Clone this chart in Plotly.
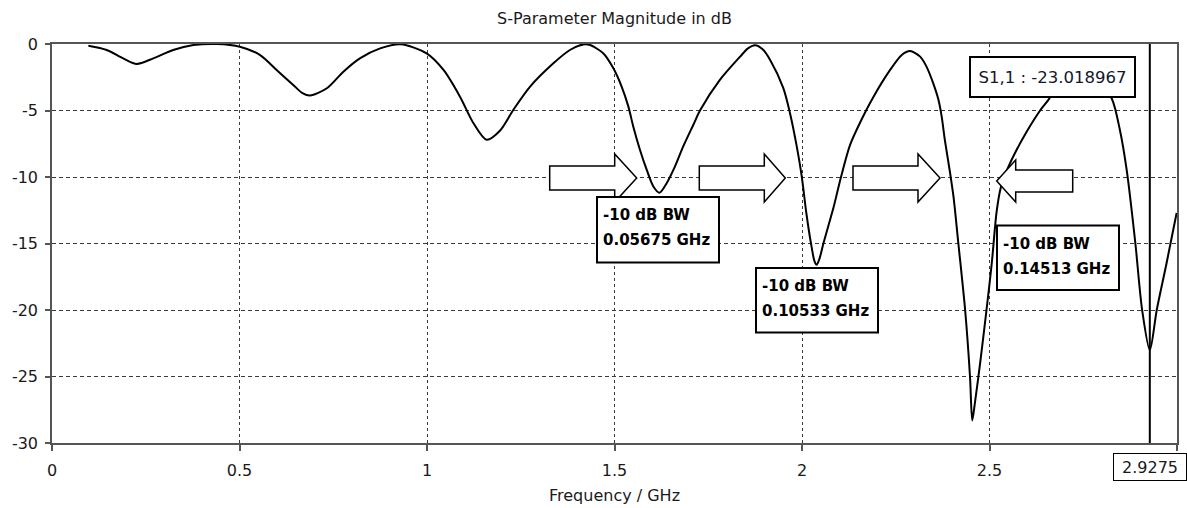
import plotly.graph_objects as go

# ---------------- data ----------------
freq_ghz = [0.097, 0.146, 0.19, 0.226, 0.27, 0.323, 0.377, 0.439, 0.501, 0.555,
            0.599, 0.644, 0.668, 0.688, 0.733, 0.777, 0.821, 0.875, 0.93, 0.999,
            1.044, 1.088, 1.124, 1.159, 1.195, 1.23, 1.275, 1.337, 1.381, 1.417,
            1.435, 1.470, 1.497, 1.519, 1.537, 1.550, 1.568, 1.586, 1.604, 1.620,
            1.639, 1.661, 1.683, 1.710, 1.728, 1.781, 1.835, 1.855, 1.875, 1.895,
            1.915, 1.95, 1.968, 1.986, 1.999, 2.012, 2.024, 2.033, 2.039, 2.046,
            2.057, 2.070, 2.084, 2.104, 2.128, 2.155, 2.19, 2.235, 2.266, 2.288,
            2.315, 2.332, 2.350, 2.364, 2.3725, 2.381, 2.395, 2.404, 2.417, 2.435,
            2.448, 2.454, 2.461, 2.475, 2.492, 2.506, 2.519, 2.530, 2.545, 2.568,
            2.599, 2.635, 2.657, 2.70, 2.74, 2.78, 2.826, 2.848, 2.866, 2.889,
            2.907, 2.9275, 2.946, 2.972, 2.999]
s11_db = [-0.13, -0.45, -1.08, -1.5, -1.08, -0.45, -0.08, 0.0, -0.2, -0.83,
          -1.95, -3.1, -3.7, -3.88, -3.33, -2.08, -1.08, -0.33, -0.02, -0.7,
          -1.95, -3.96, -5.96, -7.2, -6.5, -4.96, -3.2, -1.45, -0.45, -0.03,
          -0.08, -0.7, -1.83, -3.2, -4.71, -6.2, -7.97, -9.47, -10.73, -11.18,
          -10.47, -9.22, -7.72, -6.09, -5.0, -2.7, -0.95, -0.35, -0.1, -0.4,
          -1.2, -3.3, -5.2, -7.7, -9.9, -12.8, -15.0, -16.3, -16.6, -16.2,
          -15.0, -13.7, -12.3, -10.0, -7.6, -5.9, -4.0, -1.95, -0.83, -0.53,
          -0.95, -1.7, -2.96, -4.21, -5.46, -7.22, -9.72, -11.48, -15.0, -20.0,
          -25.0, -28.3, -27.0, -24.0, -20.0, -16.5, -12.6, -10.8, -9.6, -8.2,
          -6.6, -5.0, -4.2, -2.3, -1.6, -2.3, -4.1, -6.5, -9.5, -15.0,
          -20.0, -23.02, -20.0, -16.5, -12.7]

marker_freq = 2.9275
marker_value = -23.018967
bw_values = ["0.05675 GHz", "0.10533 GHz", "0.14513 GHz"]

x_tick_vals = [0, 0.5, 1, 1.5, 2, 2.5, 3]
x_tick_text = ["0", "0.5", "1", "1.5", "2", "2.5", ""]
y_tick_vals = [0, -5, -10, -15, -20, -25, -30]
y_tick_text = ["0", "-5", "-10", "-15", "-20", "-25", "-30"]

# ---------------- layout geometry ----------------
W, H = 1187, 508
ML, MR, MT, MB = 52, 10, 44, 65
PW, PH = W - ML - MR, H - MT - MB
XR, YR = [0, 3], [-30, 0]
FONT = "DejaVu Sans"


def px2x(px):
    return XR[0] + (px - ML) / PW * (XR[1] - XR[0])


def py2y(py):
    return YR[1] - (py - MT) / PH * (YR[1] - YR[0])


def py2paper(py):
    return (MT + PH - py) / PH


fig = go.Figure()
fig.add_trace(go.Scatter(
    x=freq_ghz, y=s11_db, mode="lines", name="S1,1",
    line=dict(color="black", width=2, shape="spline", smoothing=0.8),
    cliponaxis=False, showlegend=False, hoverinfo="x+y"))

axis_common = dict(
    showgrid=True, gridcolor="#3a3a3a", gridwidth=1,
    showline=True, linecolor="#555555", linewidth=1.5, mirror=True,
    ticks="outside", tickcolor="#555555", tickwidth=1.5,
    tickfont=dict(family=FONT, size=16, color="#1a1a1a"),
    zeroline=False, fixedrange=True)

fig.update_xaxes(range=XR, tickvals=x_tick_vals, ticktext=x_tick_text,
                 griddash="3px,3px", ticklen=6, ticklabelstandoff=6, **axis_common)
fig.update_yaxes(range=YR, tickvals=y_tick_vals, ticktext=y_tick_text,
                 griddash="4px,3px", ticklen=5, ticklabelstandoff=4, **axis_common)

shapes = []
# marker line
shapes.append(dict(type="line", xref="x", yref="y", x0=marker_freq, x1=marker_freq,
                   y0=YR[0], y1=YR[1], line=dict(color="black", width=2), layer="above"))

# block arrows (tip pixel position, direction, length, head length, shaft half, head half)
arrows = [
    (636.7, 178.0, 1, 87, 22, 12, 24),
    (785.3, 178.0, 1, 86, 21, 12, 24),
    (940.0, 178.0, 1, 87, 22, 12, 24),
    (996.7, 181.0, -1, 76, 19, 11, 21),
]
for tx, ty, d, L, hl, sh, hh in arrows:
    pts = [(0, 0), (-hl, hh), (-hl, sh), (-L, sh), (-L, -sh), (-hl, -sh), (-hl, -hh)]
    path = "M" + " L".join(f"{d * px},{py}" for px, py in pts) + " Z"
    shapes.append(dict(type="path", xref="x", yref="y", xsizemode="pixel",
                       ysizemode="pixel", xanchor=px2x(tx), yanchor=py2y(ty),
                       path=path, fillcolor="white",
                       line=dict(color="black", width=1.5), layer="above"))

# -10 dB BW boxes (left, top, right, bottom in pixels)
boxes = [(597, 197, 719, 262.5), (756, 268, 878, 332.5), (997, 225.5, 1119, 290)]
annotations = []
for (l, t, r, b), val in zip(boxes, bw_values):
    shapes.append(dict(type="rect", xref="x", yref="y", x0=px2x(l), x1=px2x(r),
                       y0=py2y(t), y1=py2y(b), fillcolor="white",
                       line=dict(color="black", width=2), layer="above"))
    for dy, txt in ((18, "-10 dB BW"), (43, val)):
        annotations.append(dict(xref="x", yref="y", x=px2x(l + 4), y=py2y(t + dy),
                                xanchor="left", yanchor="middle", showarrow=False,
                                text=f"<b>{txt}</b>",
                                font=dict(family=FONT, size=15, color="black")))

# marker value label
annotations.append(dict(xref="x", yref="y", x=px2x(1052.5), y=py2y(77.3),
                        xanchor="center", yanchor="middle", showarrow=False,
                        text=f"S1,1 : {marker_value:.6f}", width=157, height=32,
                        bgcolor="white", bordercolor="black", borderwidth=2, borderpad=3,
                        font=dict(family=FONT, size=16.5, color="#10182a")))
# marker frequency label on the x axis
annotations.append(dict(xref="x", yref="paper", x=marker_freq, y=py2paper(467),
                        xanchor="center", yanchor="middle", showarrow=False,
                        text=f"{marker_freq:g}", width=64, height=18,
                        bgcolor="white", bordercolor="black", borderwidth=1, borderpad=4,
                        font=dict(family=FONT, size=16, color="#1a1a1a")))
# x axis title
annotations.append(dict(xref="paper", yref="paper", x=0.5, y=py2paper(495),
                        xanchor="center", yanchor="middle", showarrow=False,
                        text="Frequency / GHz",
                        font=dict(family=FONT, size=16, color="#1a1a1a")))

fig.update_layout(
    width=W, height=H,
    margin=dict(l=ML, r=MR, t=MT, b=MB, autoexpand=False),
    paper_bgcolor="white", plot_bgcolor="white",
    title=dict(text="S-Parameter Magnitude in dB", x=(ML + PW / 2) / W, xref="container",
               xanchor="center", y=1 - 18 / H, yref="container", yanchor="middle",
               font=dict(family=FONT, size=16, color="#1a1a1a")),
    shapes=shapes, annotations=annotations, showlegend=False)

fig.write_html("out.html", config={"displayModeBar": False})
